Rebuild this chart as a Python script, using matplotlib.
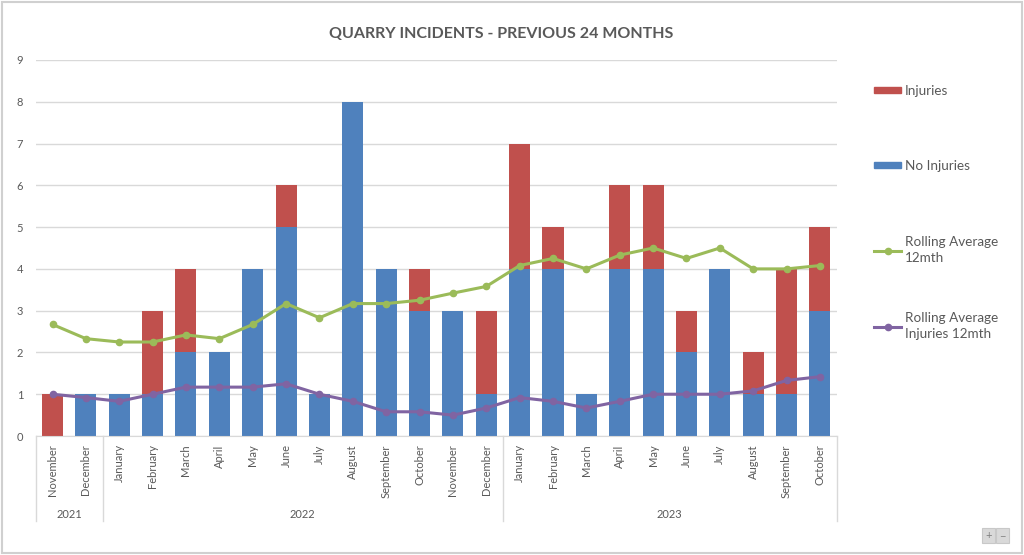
"""Quarry incidents over the previous 24 months: stacked bars plus rolling averages."""
import matplotlib
matplotlib.use("Agg")
import matplotlib.pyplot as plt
import matplotlib.transforms as mtransforms
from matplotlib.lines import Line2D
from matplotlib.patches import Patch, Rectangle
import numpy as np

months = ["November", "December",
          "January", "February", "March", "April", "May", "June", "July",
          "August", "September", "October", "November", "December",
          "January", "February", "March", "April", "May", "June", "July",
          "August", "September", "October"]
years = ["2021", "2022", "2023"]
year_counts = [2, 12, 10]

no_injuries = [0, 1, 1, 1, 2, 2, 4, 5, 1, 8, 4, 3, 3, 1,
               4, 4, 1, 4, 4, 2, 4, 1, 1, 3]
injuries = [1, 0, 0, 2, 2, 0, 0, 1, 0, 0, 0, 1, 0, 2,
            3, 1, 0, 2, 2, 1, 0, 1, 3, 2]
rolling_avg = [2.67, 2.33, 2.25, 2.25, 2.42, 2.33, 2.67, 3.17, 2.83, 3.17,
               3.17, 3.25, 3.42, 3.58, 4.08, 4.25, 4.0, 4.33, 4.5, 4.25,
               4.5, 4.0, 4.0, 4.08]
rolling_inj = [1.0, 0.92, 0.83, 1.0, 1.17, 1.17, 1.17, 1.25, 1.0, 0.83,
               0.58, 0.58, 0.5, 0.67, 0.92, 0.83, 0.67, 0.83, 1.0, 1.0,
               1.0, 1.08, 1.33, 1.42]

RED = "#C0504D"
BLUE = "#4F81BD"
GREEN = "#9BBB59"
PURPLE = "#8064A2"
TEXT = "#595959"
GRID = "#D9D9D9"

plt.rcParams["font.family"] = ["Lato", "DejaVu Sans"]

fig = plt.figure(figsize=(10.24, 5.55), dpi=100)
ax = fig.add_axes([0.035, 0.2144, 0.782, 0.6775])

x = np.arange(len(months))
ax.bar(x, no_injuries, width=0.63, color=BLUE, zorder=2)
ax.bar(x, injuries, width=0.63, bottom=no_injuries, color=RED, zorder=2)
ax.plot(x, rolling_avg, color=GREEN, lw=2.2, marker="o", ms=4.5, zorder=3)
ax.plot(x, rolling_inj, color=PURPLE, lw=2.2, marker="o", ms=4.5, zorder=3)

ax.set_xlim(-0.5, len(months) - 0.5)
ax.set_ylim(0, 9)
ax.set_yticks(range(10))
ax.yaxis.grid(True, color=GRID, lw=1.0)
ax.set_axisbelow(True)
for side in ["left", "right", "top"]:
    ax.spines[side].set_visible(False)
ax.spines["bottom"].set_color(GRID)
ax.tick_params(axis="y", length=0, pad=9, labelsize=8, labelcolor=TEXT)
ax.set_xticks(x)
ax.set_xticklabels(months, rotation=90, fontsize=8, color=TEXT)
ax.tick_params(axis="x", length=0, pad=6)

# year row of the multi-level category axis
trans = mtransforms.blended_transform_factory(ax.transData, ax.transAxes)
edges = np.concatenate([[0], np.cumsum(year_counts)]) - 0.5
for e in edges:
    ax.add_line(Line2D([e, e], [0, -0.225], transform=trans, color=GRID,
                       lw=1.0, clip_on=False))
for yr, a, b in zip(years, edges[:-1], edges[1:]):
    ax.text((a + b) / 2, -0.208, yr, transform=trans, ha="center",
            va="center", fontsize=8, color=TEXT)

fig.text(0.489, 0.939, "QUARRY INCIDENTS - PREVIOUS 24 MONTHS",
         ha="center", va="center", fontsize=11.5, fontweight="bold",
         color=TEXT)

# legend entries, spaced out like the spreadsheet legend
entries = [
    (Patch(color=RED), "Injuries", 91),
    (Patch(color=BLUE), "No Injuries", 166),
    (Line2D([], [], color=GREEN, lw=2.2, marker="o", ms=4.5),
     "Rolling Average\n12mth", 250),
    (Line2D([], [], color=PURPLE, lw=2.2, marker="o", ms=4.5),
     "Rolling Average\nInjuries 12mth", 326),
]
for handle, label, ypix in entries:
    leg = fig.legend([handle], [label], loc="center left",
                     bbox_to_anchor=(862 / 1024, 1 - ypix / 555),
                     frameon=False, fontsize=9.7, handlelength=2.0,
                     handleheight=0.35, handletextpad=0.3,
                     labelcolor=TEXT)
    for t in leg.get_texts():
        t.set_linespacing(1.4)

# outer chart border and zoom buttons
fig.add_artist(Rectangle((0.002, 0.003), 0.996, 0.994,
                         transform=fig.transFigure, fill=False,
                         ec="#D0D0D0", lw=1.5))
for i, sym in enumerate(["+", "\u2212"]):
    x0 = (982 + i * 14) / 1024
    fig.add_artist(Rectangle((x0, 12 / 555), 13 / 1024, 15 / 555,
                             transform=fig.transFigure, fc="#D9D9D9",
                             ec="#C8C8C8", lw=0.8))
    fig.text(x0 + 6.5 / 1024, 19.5 / 555, sym, ha="center", va="center",
             fontsize=8, color="#808080")

fig.savefig("out.png", dpi=100)
